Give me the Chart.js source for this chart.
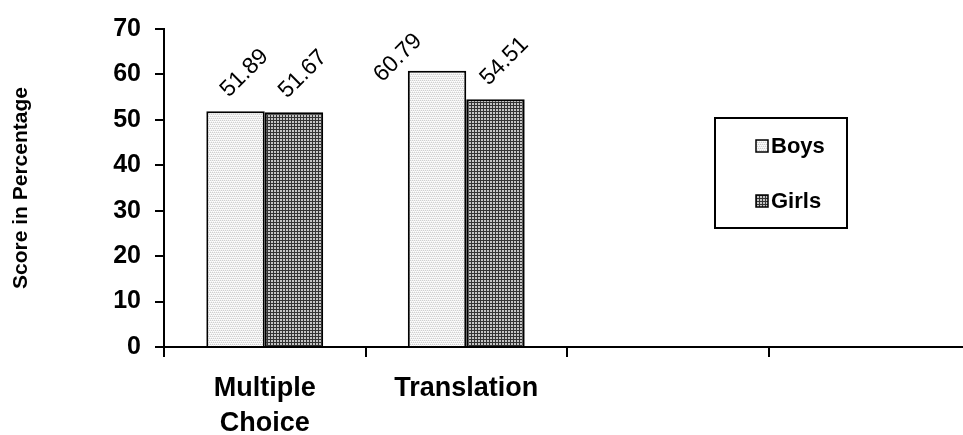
<!DOCTYPE html>
<html>
<head>
<meta charset="utf-8">
<script src="https://cdn.jsdelivr.net/npm/chart.js@4.4.1/dist/chart.umd.min.js"></script>
<style>
  html, body { margin: 0; padding: 0; background: #fff; overflow: hidden; }
  #wrap { width: 975px; height: 435px; position: relative; }
</style>
</head>
<body>
<div id="wrap"><canvas id="chart"></canvas></div>
<script>
// Test sections (two empty slots remain on the axis)
const categories = [["Multiple", "Choice"], "Translation", "", ""];
const boysScores = [51.89, 60.79, null, null];
const girlsScores = [51.67, 54.51, null, null];
const seriesNames = ["Boys", "Girls"];
const yTicks = [0, 10, 20, 30, 40, 50, 60, 70];

const FONT = "'Liberation Sans', Arial, sans-serif";

// Fine light dither used for the Boys bars
function makeLightPattern() {
  const c = document.createElement("canvas");
  c.width = 4; c.height = 4;
  const g = c.getContext("2d");
  g.fillStyle = "#efefef"; g.fillRect(0, 0, 4, 4);
  g.fillStyle = "#cfcfcf";
  for (let i = 0; i < 4; i++) g.fillRect(i, (i * 2) % 4, 1, 1);
  g.fillStyle = "#ffffff";
  for (let i = 0; i < 4; i++) g.fillRect(i, (i * 2 + 1) % 4, 1, 1);
  return g.createPattern(c, "repeat");
}

// Dark grid texture used for the Girls bars
function makeGridPattern() {
  const c = document.createElement("canvas");
  c.width = 3; c.height = 3;
  const g = c.getContext("2d");
  g.fillStyle = "#c4c4c4"; g.fillRect(0, 0, 3, 3);
  g.fillStyle = "#333333";
  g.fillRect(0, 0, 1, 3);
  g.fillRect(0, 0, 3, 1);
  return g.createPattern(c, "repeat");
}

const boysFill = makeLightPattern();
const girlsFill = makeGridPattern();

// Rotated value labels above each bar; a label that would run past the
// top of the plot is tucked beside the bar's upper-left corner instead.
const valueLabels = {
  id: "valueLabels",
  afterDatasetsDraw(chart) {
    const ctx = chart.ctx;
    ctx.save();
    ctx.font = "23px " + FONT;
    ctx.fillStyle = "#000";
    ctx.textAlign = "center";
    ctx.textBaseline = "middle";
    chart.data.datasets.forEach((ds, di) => {
      const meta = chart.getDatasetMeta(di);
      meta.data.forEach((bar, i) => {
        const v = ds.data[i];
        if (v === null || v === undefined) return;
        const text = v.toFixed(2);
        const w = ctx.measureText(text).width;
        const half = (w + 17) * Math.SQRT1_2 / 2;
        let cx = bar.x + 9, cy = bar.y - 38;
        if (cy - half < chart.chartArea.top - 8) {
          cx = bar.x - 39; cy = bar.y - 13;
        }
        ctx.save();
        ctx.translate(cx, cy);
        ctx.rotate(-Math.PI / 4);
        ctx.fillText(text, 0, 0);
        ctx.restore();
      });
    });
    ctx.restore();
  }
};

// Boxed legend placed inside the plot on the right
const boxLegend = {
  id: "boxLegend",
  afterDraw(chart) {
    const ctx = chart.ctx;
    const bx = 715, by = 118, bw = 132, bh = 110;
    ctx.save();
    ctx.fillStyle = "#fff";
    ctx.fillRect(bx, by, bw, bh);
    ctx.strokeStyle = "#000";
    ctx.lineWidth = 2;
    ctx.strokeRect(bx, by, bw, bh);
    ctx.font = "bold 22px " + FONT;
    ctx.textBaseline = "middle";
    ctx.textAlign = "left";
    chart.data.datasets.forEach((ds, i) => {
      const cy = by + 28 + i * 55;
      ctx.fillStyle = ds.backgroundColor;
      ctx.fillRect(756, cy - 6, 12, 12);
      ctx.lineWidth = 1.5;
      ctx.strokeStyle = "#000";
      ctx.strokeRect(756, cy - 6, 12, 12);
      ctx.fillStyle = "#000";
      ctx.fillText(ds.label, 771, cy + 1);
    });
    ctx.restore();
  }
};

new Chart(document.getElementById("chart"), {
  type: "bar",
  data: {
    labels: categories,
    datasets: [
      { label: seriesNames[0], data: boysScores, backgroundColor: boysFill,
        borderColor: "#000", borderWidth: 2, borderSkipped: "bottom" },
      { label: seriesNames[1], data: girlsScores, backgroundColor: girlsFill,
        borderColor: "#000", borderWidth: 2, borderSkipped: "bottom" }
    ]
  },
  options: {
    responsive: true,
    maintainAspectRatio: false,
    animation: false,
    layout: { padding: { top: 27, right: 5, left: 9, bottom: 0 } },
    datasets: { bar: { categoryPercentage: 0.58, barPercentage: 1.0 } },
    plugins: {
      legend: { display: false },
      tooltip: { enabled: false }
    },
    scales: {
      x: {
        grid: { drawOnChartArea: false, drawTicks: true, tickLength: 10,
                color: "#000", lineWidth: 2, offset: true },
        border: { color: "#000", width: 2 },
        ticks: { color: "#000", padding: 14, maxRotation: 0, autoSkip: false,
                 font: { family: FONT, size: 27, weight: "bold", lineHeight: 1.3 } },
        afterFit(scale) { scale.height = 88; }
      },
      y: {
        min: 0, max: 70,
        afterBuildTicks(scale) { scale.ticks = yTicks.map(v => ({ value: v })); },
        grid: { drawOnChartArea: false, drawTicks: true, tickLength: 9,
                color: "#000", lineWidth: 2 },
        border: { color: "#000", width: 2 },
        ticks: { color: "#000", padding: 14,
                 font: { family: FONT, size: 25, weight: "bold" } },
        title: { display: true, text: "Score in Percentage", color: "#000",
                 font: { family: FONT, size: 21, weight: "bold" }, padding: 0 },
        afterFit(scale) { scale.width = 155; }
      }
    }
  },
  plugins: [valueLabels, boxLegend]
});
</script>
</body>
</html>
